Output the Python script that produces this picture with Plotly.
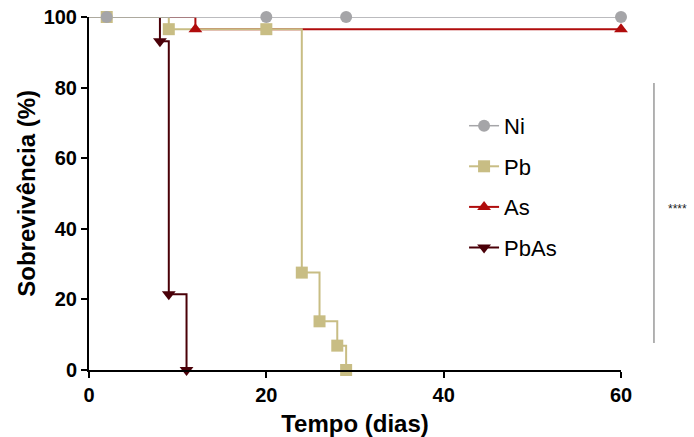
import plotly.graph_objects as go

# Kaplan-Meier step data (days, survival %)
ni_x = [0, 60]
ni_y = [100, 100]
ni_mx = [2, 20, 29, 60]
ni_my = [100, 100, 100, 100]

pb_x = [0, 9, 24, 26, 28, 29]
pb_y = [100, 96.55, 27.59, 13.79, 6.9, 0]
pb_mx = [2, 9, 20, 24, 26, 28, 29]
pb_my = [100, 96.55, 96.55, 27.59, 13.79, 6.9, 0]

as_x = [0, 12, 60]
as_y = [100, 96.55, 96.55]
as_mx = [12, 60]
as_my = [96.55, 96.55]

pbas_x = [0, 8, 9, 11]
pbas_y = [100, 93.1, 21.43, 0]
pbas_mx = [8, 9, 11]
pbas_my = [93.1, 21.43, 0]

series = [
    ("Ni", ni_x, ni_y, ni_mx, ni_my, "#A5A5A8", "circle", 1.5),
    ("Pb", pb_x, pb_y, pb_mx, pb_my, "#C8BD84", "square", 2),
    ("As", as_x, as_y, as_mx, as_my, "#B00C0C", "triangle-up", 2),
    ("PbAs", pbas_x, pbas_y, pbas_mx, pbas_my, "#4A0008", "triangle-down", 2),
]

fig = go.Figure()
for name, x, y, mx, my, col, sym, lw in reversed(series):
    fig.add_trace(go.Scatter(x=x, y=y, mode="lines", line=dict(color=col, width=lw, shape="hv"),
                             showlegend=False, legendgroup=name, cliponaxis=False, hoverinfo="skip"))
for name, x, y, mx, my, col, sym, lw in reversed(series):
    fig.add_trace(go.Scatter(x=mx, y=my, mode="markers", marker=dict(color=col, symbol=sym, size=12),
                             showlegend=False, legendgroup=name, cliponaxis=False))
for name, x, y, mx, my, col, sym, lw in series:
    fig.add_trace(go.Scatter(x=[None], y=[None], mode="lines+markers", name=name,
                             line=dict(color=col, width=lw), marker=dict(color=col, symbol=sym, size=12),
                             legendgroup=name))

fig.add_shape(type="line", xref="paper", yref="paper", x0=1.062, x1=1.062, y0=0.0765, y1=0.813,
              line=dict(color="#666666", width=1))
fig.add_annotation(text="****", xref="paper", yref="paper", x=1.084, y=0.455, xanchor="left",
                   showarrow=False, font=dict(size=12, color="#222222", family="Liberation Sans"))
fig.add_annotation(text="<b>Sobrevivência (%)</b>", xref="paper", yref="paper", x=-0.118, y=0.5,
                   textangle=-90, showarrow=False, xanchor="center", yanchor="middle",
                   font=dict(size=24, color="black", family="Liberation Sans"))

axis_common = dict(showline=True, linecolor="black", linewidth=2, ticks="outside", ticklen=6,
                   tickwidth=2, tickcolor="black", showgrid=False, zeroline=False, automargin=False,
                   tickfont=dict(family="Liberation Sans", size=20, color="black", weight="bold"))

fig.update_layout(
    width=694, height=437,
    margin=dict(l=89, r=73, t=17, b=67),
    plot_bgcolor="white", paper_bgcolor="white",
    font=dict(family="Liberation Sans", color="black"),
    xaxis=dict(range=[0, 60], tickvals=[0, 20, 40, 60],
               title=dict(text="<b>Tempo (dias)</b>", font=dict(size=24)), **axis_common),
    yaxis=dict(range=[0, 100], tickvals=[0, 20, 40, 60, 80, 100], **axis_common),
    legend=dict(x=0.705, y=0.751, xanchor="left", yanchor="top", font=dict(size=22, color="black"),
                tracegroupgap=9, bgcolor="rgba(0,0,0,0)", itemwidth=30),
)

fig.write_html("out.html")
